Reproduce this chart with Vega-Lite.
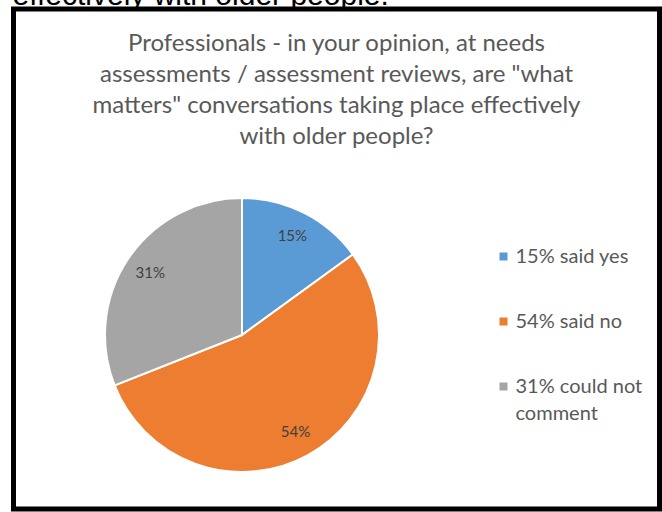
{
  "$schema": "https://vega.github.io/schema/vega-lite/v6.json",
  "autosize": "pad",
  "padding": {"left": 10.5, "top": -20, "right": 0, "bottom": 0},
  "background": "white",
  "title": {
    "text": "effectively with older people.",
    "anchor": "start",
    "frame": "group",
    "dx": -1,
    "offset": -4,
    "color": "black",
    "font": "Liberation Sans",
    "fontSize": 30,
    "fontWeight": "normal"
  },
  "vconcat": [
    {
      "width": 646,
      "height": 500,
      "view": {"stroke": "black", "strokeWidth": 5, "fill": "white"},
      "title": {
        "text": [
          "Professionals - in your opinion, at needs",
          "assessments / assessment reviews, are \"what",
          "matters\" conversations taking place effectively",
          "with older people?"
        ],
        "anchor": "middle",
        "frame": "group",
        "offset": -140,
        "color": "#595959",
        "font": "Lato",
        "fontSize": 24,
        "fontWeight": "normal",
        "lineHeight": 31
      },
      "data": {
        "values": [
          {"category": "15% said yes", "label": "15%", "value": 15, "order": 1},
          {"category": "54% said no", "label": "54%", "value": 54, "order": 2},
          {"category": "31% could not comment", "label": "31%", "value": 31, "order": 3}
        ]
      },
      "encoding": {
        "theta": {"field": "value", "type": "quantitative", "stack": true},
        "order": {"field": "order", "type": "quantitative"}
      },
      "layer": [
        {
          "mark": {"type": "arc", "outerRadius": 137, "stroke": "white", "strokeWidth": 2, "xOffset": -94.5, "yOffset": 76},
          "encoding": {
            "color": {
              "field": "category",
              "type": "nominal",
              "sort": null,
              "scale": {
                "domain": ["15% said yes", "54% said no", "31% could not comment"],
                "range": ["#5B9BD5", "#ED7D31", "#A5A5A5"]
              },
              "legend": {
                "title": null,
                "orient": "none",
                "legendX": 480,
                "legendY": 237.5,
                "symbolType": "square",
                "symbolSize": 64,
                "symbolStrokeWidth": 0,
                "labelFont": "Lato",
                "labelFontSize": 20,
                "labelColor": "#595959",
                "labelOffset": 2,
                "labelLimit": 300,
                "rowPadding": 45,
                "padding": 0,
                "labelExpr": "datum.label == '31% could not comment' ? ['31% could not', 'comment'] : datum.label"
              }
            }
          }
        },
        {
          "mark": {"type": "text", "radius": 111, "xOffset": -94.5, "yOffset": 76, "font": "Lato", "fontSize": 15, "fill": "#404040"},
          "encoding": {
            "text": {"field": "label", "type": "nominal"},
            "detail": {"field": "category", "type": "nominal"}
          }
        }
      ]
    }
  ],
  "config": {
    "view": {"stroke": "black", "strokeWidth": 5},
    "style": {"guide-label": {"lineHeight": 27}}
  }
}
